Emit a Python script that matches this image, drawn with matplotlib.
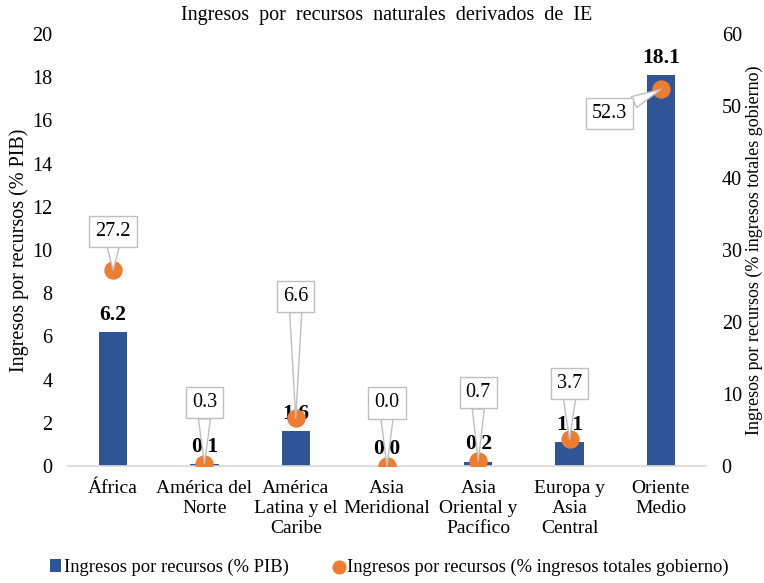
import matplotlib
matplotlib.use('Agg')
import matplotlib.pyplot as plt
import numpy as np

plt.rcParams['font.family'] = ['Liberation Serif', 'DejaVu Serif']

regions = ['África', 'América del\nNorte', 'América\nLatina y el\nCaribe', 'Asia\nMeridional',
           'Asia\nOriental y\nPacífico', 'Europa y\nAsia\nCentral', 'Oriente\nMedio']
pct_pib = [6.2, 0.1, 1.6, 0.0, 0.2, 1.1, 18.1]
pct_gob = [27.2, 0.3, 6.6, 0.0, 0.7, 3.7, 52.3]
# callout offsets (pixels) for the secondary labels
callout_dx = [0, 0, 0, 0, 0, 0, -51]
callout_dy = [39, 61, 122, 63, 68, 56, -24]

BLUE = '#2F5597'
ORANGE = '#ED7D31'
FS = 14.5

fig = plt.figure(figsize=(7.64, 5.83), dpi=100)
ax = fig.add_axes([0.0884, 0.2007, 0.9247 - 0.0884, 0.9417 - 0.2007])
ax2 = ax.twinx()

x = np.arange(len(regions))
ax.bar(x, pct_pib, width=0.31, color=BLUE, zorder=2, label='Ingresos por recursos (% PIB)')
for xi, v in zip(x, pct_pib):
    ax.text(xi, v + 0.8, f'{v:.1f}', ha='center', va='center', fontsize=15.5, fontweight='bold', zorder=3)

ax.set_ylim(0, 20)
ax.set_yticks(range(0, 21, 2))
ax.set_xlim(-0.5, len(regions) - 0.5)
ax.set_xticks(x)
ax.set_xticklabels(regions, fontsize=14, linespacing=1.25)
ax.set_ylabel('Ingresos por recursos (% PIB)', fontsize=FS)
ax.yaxis.set_label_coords(-0.06, 0.5)
ax.tick_params(axis='y', labelsize=FS, length=0, pad=11)
ax.tick_params(axis='x', length=0, pad=10)
for s in ['top', 'right', 'left']:
    ax.spines[s].set_visible(False)
ax.spines['bottom'].set_color('#D9D9D9')
ax.spines['bottom'].set_linewidth(1.2)

ax2.scatter(x, pct_gob, s=150, color=ORANGE, zorder=4, label='Ingresos por recursos (% ingresos totales gobierno)')
ax2.set_ylim(0, 60)
ax2.set_yticks(range(0, 61, 10))
ax2.tick_params(axis='y', labelsize=FS, length=0, pad=11)
ax2.set_ylabel('Ingresos por recursos (% ingresos totales gobierno)', fontsize=13)
ax2.yaxis.set_label_coords(1.061, 0.5)
for s in ['top', 'right', 'left', 'bottom']:
    ax2.spines[s].set_visible(False)

for xi, v, dx, dy in zip(x, pct_gob, callout_dx, callout_dy):
    ax2.annotate(f'{v:.1f}', xy=(xi, v), xytext=(dx, dy), textcoords='offset pixels',
                 ha='center', va='center', fontsize=FS, zorder=5,
                 bbox=dict(boxstyle='square,pad=0.3', fc='white', ec='#BFBFBF', lw=1),
                 arrowprops=dict(arrowstyle='wedge,tail_width=0.6,shrink_factor=0.5', fc='white', ec='#BFBFBF',
                                 lw=1, shrinkA=0, shrinkB=0))

fig.suptitle('Ingresos  por  recursos  naturales  derivados  de  IE', fontsize=FS, y=0.99, x=0.506)

h1, l1 = ax.get_legend_handles_labels()
h2, l2 = ax2.get_legend_handles_labels()
fig.legend(h1 + h2, l1 + l2, loc='center', bbox_to_anchor=(0.51, 0.027), ncol=2, frameon=False,
           fontsize=13.3, handlelength=0.6, handletextpad=0.15, columnspacing=2.4, markerscale=0.75)

fig.savefig('out.png', dpi=100)
